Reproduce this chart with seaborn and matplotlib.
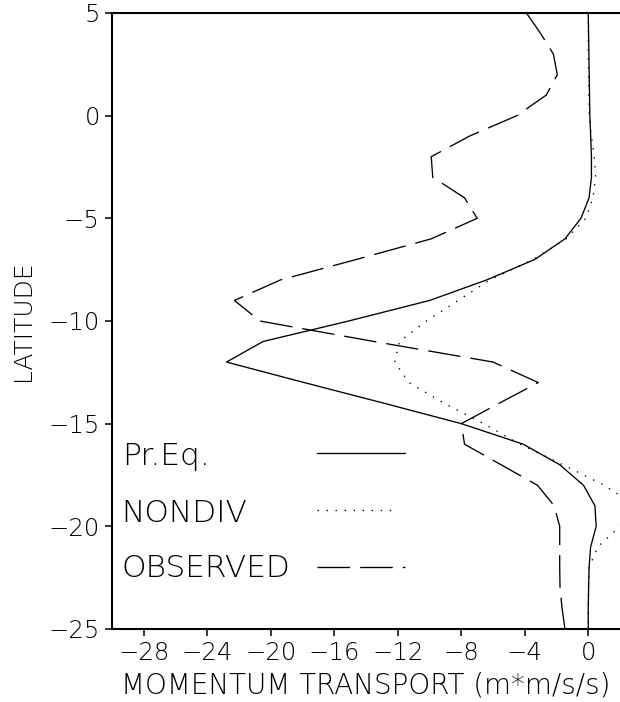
import matplotlib
matplotlib.use("Agg")
import matplotlib.pyplot as plt
from matplotlib.lines import Line2D
import numpy as np
import pandas as pd
import seaborn as sns

# ---------------- data ----------------
latitude = [5, 4, 3, 2, 1, 0, -1, -2, -3, -4, -5, -6, -7, -8, -9, -10,
            -11, -12, -13, -14, -15, -16, -17, -18, -19, -20, -21, -22, -23, -24, -25]

pr_eq = [0.0, 0.02, 0.04, 0.06, 0.08, 0.1, 0.15, 0.2, 0.2, 0.05, -0.46, -1.47,
         -3.36, -6.4, -10.0, -15.1, -20.5, -22.8, -17.9, -12.9, -8.0, -4.1, -1.8,
         -0.3, 0.42, 0.5, 0.15, 0.05, 0.02, 0.0, 0.0]

nondiv = [0.0, 0.0, 0.0, 0.02, 0.03, 0.06, 0.2, 0.38, 0.46, 0.3, -0.15, -1.4,
          -3.46, -6.2, -8.2, -10.2, -11.9, -12.2, -11.3, -9.1, -6.6, -4.3, -1.6,
          1.0, 3.0, 2.0, 0.6, 0.05, 0.02, 0.0, 0.0]

observed = [-3.9, -3.0, -2.2, -1.95, -2.65, -4.5, -7.5, -9.9, -9.8, -7.8, -7.0,
            -9.9, -14.6, -19.4, -22.3, -20.7, -13.5, -6.0, -3.15, -5.6, -8.0,
            -7.8, -5.5, -3.2, -2.15, -1.8, -1.8, -1.8, -1.78, -1.65, -1.47]

series_names = ["Pr.Eq.", "NONDIV", "OBSERVED"]
x_ticks = [-28, -24, -20, -16, -12, -8, -4, 0]
y_ticks = [5, 0, -5, -10, -15, -20, -25]

# ---------------- style ----------------
sns.set_theme(style="white")
plt.rcParams["font.family"] = ["DejaVu Sans"]
plt.rcParams["font.weight"] = "light"
plt.rcParams["lines.scale_dashes"] = False
plt.rcParams["axes.unicode_minus"] = True

styles = {
    "Pr.Eq.": "-",
    "NONDIV": (0, (1.0, 5.5)),
    "OBSERVED": (0, (23.5, 7.2)),
}
values = {"Pr.Eq.": pr_eq, "NONDIV": nondiv, "OBSERVED": observed}

df = pd.concat(
    [pd.DataFrame({"lat": latitude, "transport": values[n], "model": n}) for n in series_names],
    ignore_index=True,
)

fig = plt.figure(figsize=(6.2, 7.02), dpi=100)
ax = fig.add_axes([0.1811, 0.104, 0.8189, 0.8775])

lw = 0.95
for name in series_names:
    sub = df[df["model"] == name]
    sns.lineplot(data=sub, x="transport", y="lat", sort=False, estimator=None,
                 color="black", linewidth=lw, linestyle=styles[name], ax=ax)

ax.set_xlim(-30, 2)
ax.set_ylim(-25, 5)
ax.set_xticks(x_ticks)
ax.set_xticklabels([f"{t}".replace("-", "\u2212") for t in x_ticks])
ax.set_yticks(y_ticks)
ax.set_yticklabels([f"{t}".replace("-", "\u2212") for t in y_ticks])
ax.tick_params(axis="both", direction="out", length=5, width=1.1, color="black",
               labelsize=17.5, pad=4, labelcolor="black")
ax.tick_params(axis="x", bottom=True)
ax.tick_params(axis="y", left=True)

for side in ["left", "bottom", "top"]:
    ax.spines[side].set_linewidth(1.5)
    ax.spines[side].set_color("black")
ax.spines["right"].set_visible(False)

ax.set_xlabel("MOMENTUM TRANSPORT (m*m/s/s)", fontsize=20, labelpad=4,
              color="black", fontweight="light")
ax.set_ylabel("LATITUDE", fontsize=18, color="black", fontweight="light")
ax.yaxis.set_label_coords(-0.152, 0.5)

# legend: labels left, key lines right
rows_text_y = [0.2662, 0.1742, 0.0849]
rows_line_y = [0.2852, 0.1932, 0.1011]
for name, ty, ly in zip(series_names, rows_text_y, rows_line_y):
    ax.text(0.0185, ty, name, transform=ax.transAxes, fontsize=22.5,
            va="baseline", ha="left", color="black", fontweight="light")
    end = 0.561 if name == "NONDIV" else 0.5765
    ax.add_line(Line2D([0.4026, end], [ly, ly], transform=ax.transAxes,
                       color="black", linewidth=lw, linestyle=styles[name]))

fig.savefig("out.png", dpi=100)
